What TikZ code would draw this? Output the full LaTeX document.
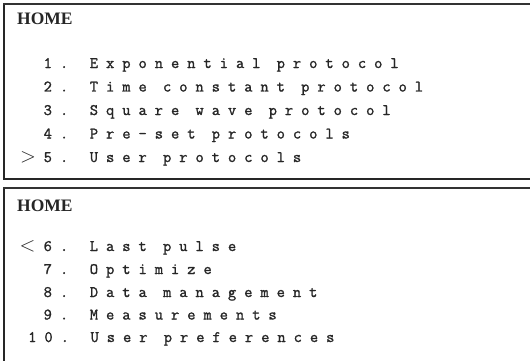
\documentclass[tikz,border=0pt]{standalone}
\usepackage{fontspec}
\newfontfamily\menufont[LetterSpace=50,FakeBold=1.4]{Latin Modern Mono}
\newfontfamily\chevfont{Latin Modern Roman}
\newfontfamily\homefont{Liberation Serif}
\begin{document}
\begin{tikzpicture}[x=1pt,y=-1pt,
  frame/.style={draw=black!85,line width=1.5pt},
  topline/.style={draw=black!80,line width=2.2pt},
  home/.style={anchor=base west,inner sep=0pt,font=\homefont\bfseries\fontsize{17.5}{17.5}\selectfont,text=black!85},
  item/.style={anchor=base west,inner sep=0pt,font=\menufont\fontsize{16}{16}\selectfont,text=black!85},
  arrowch/.style={anchor=base,inner sep=0pt,font=\chevfont\fontsize{20}{20}\selectfont,text=black!85}]
\useasboundingbox (0,0) rectangle (530,361);
\fill[white] (0,0) rectangle (530,361);
\clip (0,0) rectangle (530,361);
% box 1
\draw[frame] (3.8,4.3) rectangle (560,178.8);
\draw[topline] (3,4.3) -- (560,4.3);
% box 2
\draw[frame] (3.8,187.6) rectangle (560,400);
\draw[topline] (3,187.6) -- (560,187.6);
% box 1 text
\node[home] (h1) at (17,25) {HOME};
\node[item] (i1) at (43.5,68) {1. Exponential protocol};
\node[item] (i2) at (43.5,91.5) {2. Time constant protocol};
\node[item] (i3) at (43.5,115) {3. Square wave protocol};
\node[item] (i4) at (43.5,138.5) {4. Pre-set protocols};
\node[arrowch] (gt) at (28,162.5) {$>$};
\node[item] (i5) at (43.5,162) {5. User protocols};
% box 2 text
\node[home] (h2) at (17,211) {HOME};
\node[arrowch] (lt) at (27.5,251.5) {$<$};
\node[item] (i6) at (43.5,251) {6. Last pulse};
\node[item] (i7) at (43.5,274) {7. Optimize};
\node[item] (i8) at (43.5,297) {8. Data management};
\node[item] (i9) at (43.5,319.5) {9. Measurements};
\node[item] (i10) at (28,342) {10. User preferences};
\end{tikzpicture}
\end{document}
